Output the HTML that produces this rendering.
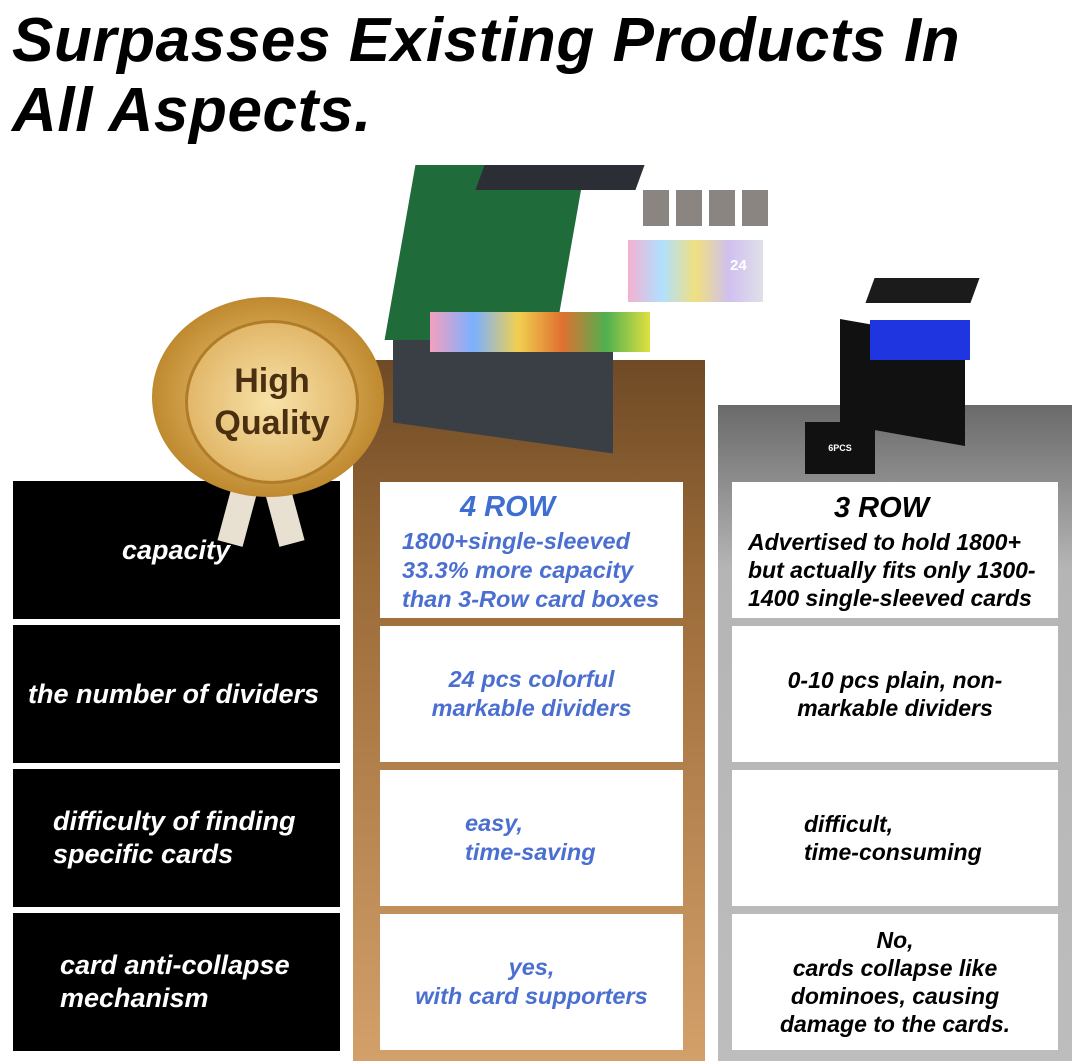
<!DOCTYPE html>
<html><head><style>
body{margin:0;width:1072px;height:1061px;background:#fff;position:relative;overflow:hidden;font-family:"Liberation Sans",sans-serif;}
.a{position:absolute;}
h1{position:absolute;left:12px;top:6px;margin:0;font-size:62px;line-height:70px;font-style:italic;font-weight:bold;color:#000;letter-spacing:0.6px}
.lc{position:absolute;left:13px;width:327px;background:#000;color:#fff;font-style:italic;font-weight:bold;font-size:27px;display:flex;align-items:center;}
.cc{position:absolute;left:380px;width:303px;background:#fff;font-style:italic;font-weight:bold;font-size:23.5px;color:#4a6fd0;display:flex;align-items:center;justify-content:center;text-align:center;line-height:29px}
.rc{position:absolute;left:732px;width:326px;background:#fff;font-style:italic;font-weight:bold;font-size:23px;color:#000;display:flex;align-items:center;justify-content:center;text-align:center;line-height:28px}
</style></head><body>
<h1>Surpasses Existing Products In<br>All Aspects.</h1>
<div class="a" style="left:353px;top:360px;width:352px;height:701px;background:linear-gradient(#6e4a25,#9a6a38 30%,#d3a06a)"></div>
<div class="a" style="left:718px;top:405px;width:354px;height:656px;background:linear-gradient(#6a6a6a,#b5b5b5 25%,#bdbdbd)"></div>
<!-- green box -->
<div class="a" style="left:393px;top:333px;width:220px;height:105px;background:#3a3f46;transform:skewY(8deg)"></div>
<div class="a" style="left:400px;top:165px;width:170px;height:175px;background:#1f6b3a;transform:skewX(-10deg)"></div>
<div class="a" style="left:480px;top:165px;width:160px;height:25px;background:#2b2f35;transform:skewX(-20deg)"></div>
<div class="a" style="left:430px;top:312px;width:220px;height:40px;background:linear-gradient(90deg,#f4a0c0,#7ab0ff,#f0d050,#e07030,#50b050,#e0e040)"></div>
<div class="a" style="left:628px;top:240px;width:135px;height:62px;background:linear-gradient(90deg,#f6b0d0,#b0e0ff,#f0e080,#d0c0f0,#e0e0e8)"></div>
<div class="a" style="left:730px;top:257px;color:#fff;font-weight:bold;font-size:15px">24</div>
<div class="a" style="left:643px;top:190px;width:128px;height:36px;background:repeating-linear-gradient(90deg,#8a8580 0 26px,#fff 26px 33px)"></div>
<!-- blue box -->
<div class="a" style="left:840px;top:330px;width:125px;height:105px;background:#111;transform:skewY(10deg)"></div>
<div class="a" style="left:870px;top:320px;width:100px;height:40px;background:#1f35e0"></div>
<div class="a" style="left:870px;top:278px;width:105px;height:25px;background:#1b1b1b;transform:skewX(-20deg)"></div>
<div class="a" style="left:805px;top:422px;width:70px;height:52px;background:#111;color:#fff;font-size:9px;font-weight:bold;display:flex;align-items:center;justify-content:center">6PCS</div>
<!-- left cells -->
<div class="lc" style="top:481px;height:138px;padding-left:109px;width:218px">capacity</div>
<div class="lc" style="top:625px;height:138px;padding-left:15px;width:312px">the number of dividers</div>
<div class="lc" style="top:769px;height:138px;padding-left:40px;width:287px;line-height:33px">difficulty of finding<br>specific cards</div>
<div class="lc" style="top:913px;height:138px;padding-left:47px;width:280px;line-height:33px">card anti-collapse<br>mechanism</div>
<!-- center cells -->
<div class="cc" style="top:482px;height:136px;flex-direction:column;align-items:flex-start;padding-left:22px;width:281px;text-align:left"><span style="font-size:29px;margin-left:58px;line-height:40px;color:#3d6ed0">4 ROW</span>1800+single-sleeved<br>33.3% more capacity<br>than 3-Row card boxes</div>
<div class="cc" style="top:626px;height:136px">24 pcs colorful<br>markable dividers</div>
<div class="cc" style="top:770px;height:136px;justify-content:flex-start;padding-left:85px;width:218px;text-align:left">easy,<br>time-saving</div>
<div class="cc" style="top:914px;height:136px">yes,<br>with card supporters</div>
<!-- right cells -->
<div class="rc" style="top:482px;height:136px;flex-direction:column;align-items:flex-start;padding-left:16px;width:310px;text-align:left"><span style="font-size:29px;line-height:40px;margin-left:86px">3 ROW</span>Advertised to hold 1800+<br>but actually fits only 1300-<br>1400 single-sleeved cards</div>
<div class="rc" style="top:626px;height:136px">0-10 pcs plain, non-<br>markable dividers</div>
<div class="rc" style="top:770px;height:136px;justify-content:flex-start;padding-left:72px;width:254px;text-align:left">difficult,<br>time-consuming</div>
<div class="rc" style="top:914px;height:136px">No,<br>cards collapse like<br>dominoes, causing<br>damage to the cards.</div>
<!-- badge -->
<div class="a" style="left:228px;top:460px;width:26px;height:85px;background:#e8e0d0;transform:rotate(15deg)"></div>
<div class="a" style="left:268px;top:460px;width:26px;height:85px;background:#e8e0d0;transform:rotate(-15deg)"></div>
<div class="a" style="left:152px;top:297px;width:232px;height:200px;border-radius:50%;background:radial-gradient(#f3d488,#c08a30 70%,#8a5a18)"></div>
<div class="a" style="left:185px;top:320px;width:168px;height:158px;border-radius:50%;background:radial-gradient(#f8e2a8,#d9a650);border:3px solid #b07c2a;color:#4a3010;font-weight:bold;font-size:34px;text-align:center;line-height:42px;display:flex;align-items:center;justify-content:center">High<br>Quality</div>
</body></html>
